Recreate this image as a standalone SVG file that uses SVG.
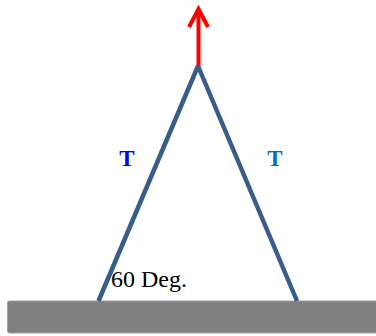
<svg xmlns="http://www.w3.org/2000/svg" width="376" height="336" viewBox="0 0 376 336">
<style>
.leg{stroke:#385D8A;stroke-width:4.5;fill:none;stroke-linecap:butt}
.t{font-family:"Liberation Serif",serif;font-weight:bold;font-size:23px;text-anchor:middle}
.lbl{font-family:"Liberation Serif",serif;font-size:24px;fill:#000}
</style>
<rect width="376" height="336" fill="#fff"/>
<g id="ground"><rect x="7.5" y="301" width="372" height="32" rx="2" fill="#808080" stroke="#a0a0a0" stroke-width="1"/></g>
<g id="connectors">
<line class="leg" x1="98.5" y1="301" x2="198" y2="66"/>
<line class="leg" x1="198" y1="66" x2="297" y2="301"/>
<g id="force">
<line x1="198.5" y1="66" x2="198.5" y2="9" stroke="#FF0000" stroke-width="4"/>
<polyline points="189,27 198.5,9 208,27" fill="none" stroke="#FF0000" stroke-width="4" stroke-linejoin="miter"/>
</g>
</g>
<g id="labelT1"><text class="t" x="127" y="166" fill="#0000FF">T</text></g>
<g id="labelT2"><text class="t" x="275" y="166" fill="#0070C0">T</text></g>
<g id="angle"><text class="lbl" x="111" y="287">60 Deg.</text></g>
</svg>
